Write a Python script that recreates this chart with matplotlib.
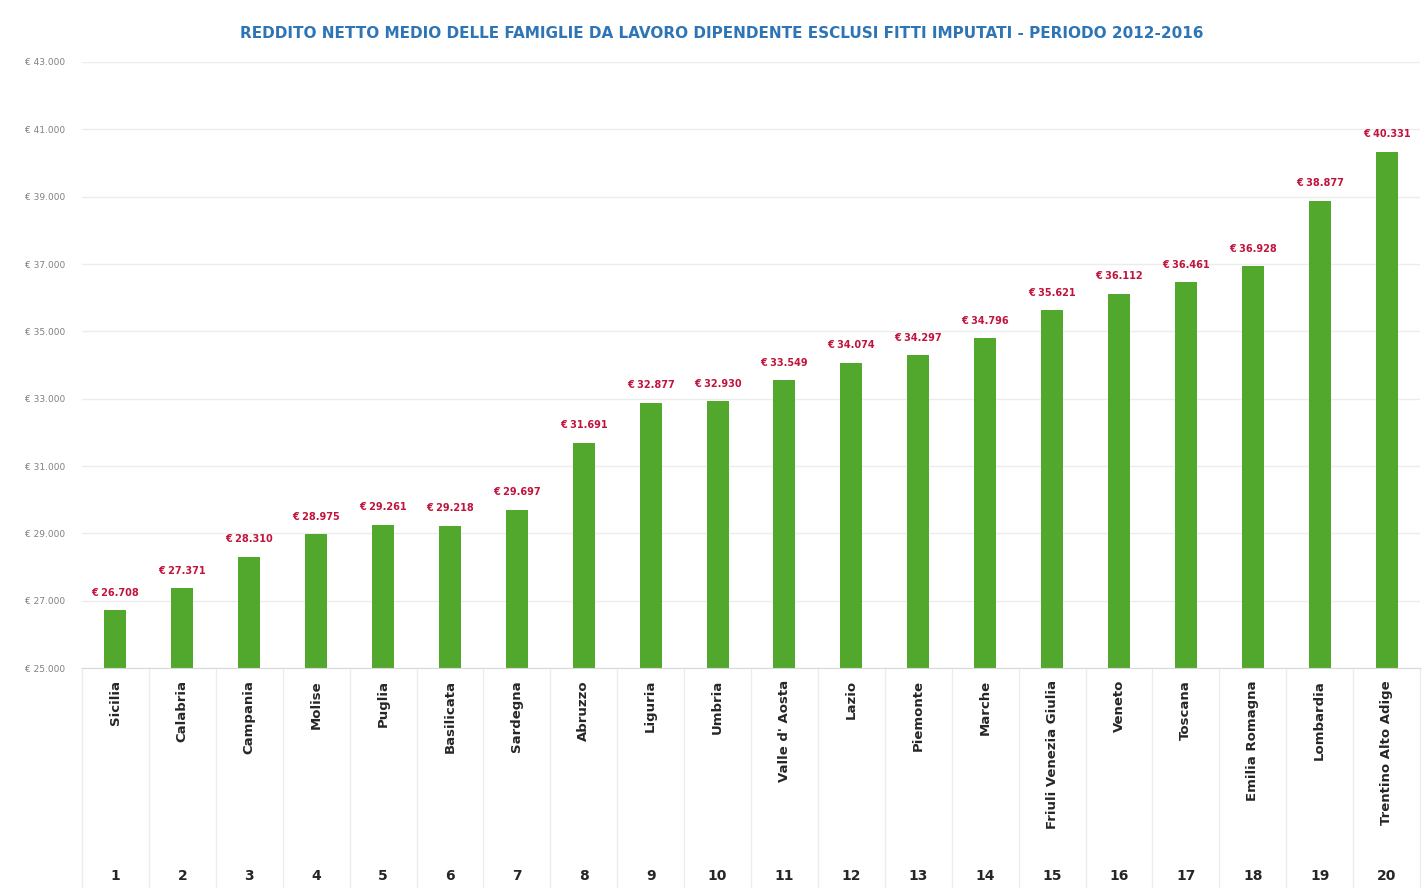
import matplotlib
matplotlib.use("Agg")
import matplotlib.pyplot as plt
import matplotlib.ticker as ticker
import matplotlib.transforms as mtransforms
import numpy as np

regioni = ["Sicilia", "Calabria", "Campania", "Molise", "Puglia", "Basilicata",
           "Sardegna", "Abruzzo", "Liguria", "Umbria", "Valle d' Aosta", "Lazio",
           "Piemonte", "Marche", "Friuli Venezia Giulia", "Veneto", "Toscana",
           "Emilia Romagna", "Lombardia", "Trentino Alto Adige"]
reddito = [26708, 27371, 28310, 28975, 29261, 29218, 29697, 31691, 32877, 32930,
           33549, 34074, 34297, 34796, 35621, 36112, 36461, 36928, 38877, 40331]
y_ticks = [25000, 27000, 29000, 31000, 33000, 35000, 37000, 39000, 41000, 43000]


def euro(v):
    return "€ " + f"{v:,.0f}".replace(",", ".")


fig = plt.figure(figsize=(14.23, 8.88), dpi=100)
ax = fig.add_axes([82 / 1423, 1 - 668 / 888, 1338 / 1423, (668 - 62) / 888])

x = np.arange(len(regioni))
ax.bar(x, reddito, width=0.33, color="#52a82d", zorder=2)

ax.set_xlim(-0.5, len(regioni) - 0.5)
ax.set_ylim(25000, 43000)
ax.yaxis.set_major_locator(ticker.FixedLocator(y_ticks))
ax.yaxis.set_major_formatter(ticker.FuncFormatter(lambda v, p: euro(v)))
ax.tick_params(axis="y", length=0, labelsize=6.5, labelcolor="#808080", pad=12)
ax.grid(axis="y", color="#ececec", linewidth=1, zorder=0)
ax.set_xticks([])
for s in ["top", "right", "left"]:
    ax.spines[s].set_visible(False)
ax.spines["bottom"].set_color("#d9d9d9")

for xi, v in zip(x, reddito):
    ax.annotate(euro(v), (xi, v), xytext=(0, 9), textcoords="offset points",
                ha="center", va="bottom", fontsize=7, color="#c0143c",
                fontweight="bold")

# multi-level category axis
trans = mtransforms.blended_transform_factory(ax.transData, ax.transAxes)
for xi in np.arange(-0.5, len(regioni), 1.0):
    ax.plot([xi, xi], [0, -0.37], transform=trans, color="#ececec",
            linewidth=1, clip_on=False)
for xi, nome in zip(x, regioni):
    ax.text(xi, -0.02, nome, transform=trans, rotation=90, ha="center",
            va="top", fontsize=9.5, color="#262626", fontweight="bold")
    ax.text(xi, -0.343, str(xi + 1), transform=trans, ha="center",
            va="center", fontsize=10, color="#262626", fontweight="bold")

fig.text(722 / 1423, 1 - 33 / 888,
         "REDDITO NETTO MEDIO DELLE FAMIGLIE DA LAVORO DIPENDENTE ESCLUSI FITTI IMPUTATI - PERIODO 2012-2016",
         ha="center", va="center", fontsize=11, color="#2e75b6", fontweight="bold")

fig.savefig("out.png", dpi=100)
